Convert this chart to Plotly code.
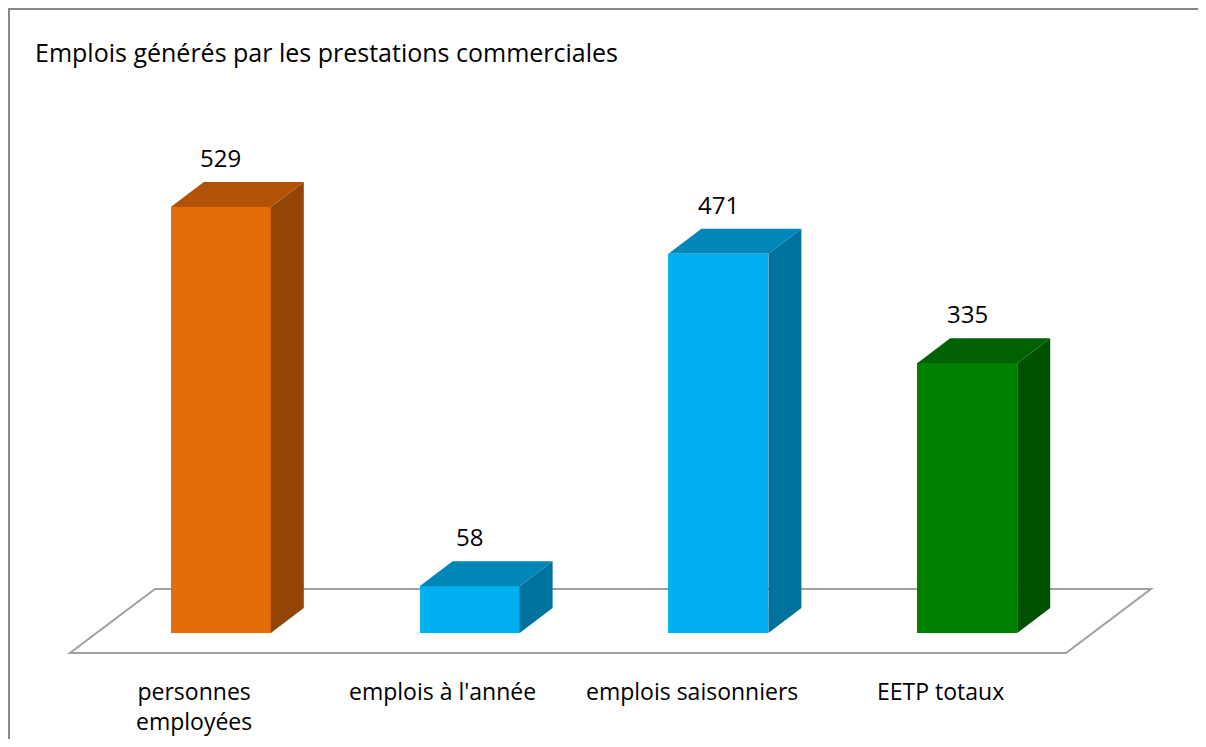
import plotly.graph_objects as go

# ---- data ----
categories = ["personnes<br>employées", "emplois à l'année", "emplois saisonniers", "EETP totaux"]
values = [529, 58, 471, 335]
front_colors = ["#E46C0A", "#00B0F0", "#00B0F0", "#008000"]
top_colors = ["#B15206", "#0087B9", "#0087B9", "#006100"]
side_colors = ["#934508", "#00729E", "#00729E", "#005100"]
title_text = "Emplois générés par les prestations commerciales"

# ---- geometry / style (page-pixel calibration) ----
PAGE_W, PAGE_H = 1206, 747
OFF = 8                      # browser body margin
W, H = PAGE_W - 2 * OFF, PAGE_H - 2 * OFF
CAT_PX = 248.8               # px between categories
CAT0_PX = 220.8              # page px of first bar centre
BASE_PX = 633                # page px of value 0
UNIT_PX = 426 / 529          # px per value unit

def cx(px):
    return (px - CAT0_PX) / CAT_PX

def vy(px):
    return (BASE_PX - px) / UNIT_PX

def paper_x(px):
    return (px - OFF) / W

def paper_y(px):
    return 1 - (px - OFF) / H

bar_w = 100 / CAT_PX
dx = 33 / CAT_PX
dy = 25 / UNIT_PX
FONT = "Open Sans"

fig = go.Figure()

# front faces
xs = list(range(len(values)))
fig.add_trace(go.Bar(
    x=xs, y=values, width=bar_w,
    marker=dict(color=front_colors, line=dict(width=0)),
    hoverinfo="skip", showlegend=False,
))

# side and top faces
for i, v in enumerate(values):
    r = i + bar_w / 2
    l = i - bar_w / 2
    fig.add_trace(go.Scatter(
        x=[r, r + dx, r + dx, r, r], y=[0, dy, v + dy, v, 0],
        fill="toself", fillcolor=side_colors[i], mode="lines",
        line=dict(width=0, color=side_colors[i]),
        hoverinfo="skip", showlegend=False,
    ))
    fig.add_trace(go.Scatter(
        x=[l, l + dx, r + dx, r, l], y=[v, v + dy, v + dy, v, v],
        fill="toself", fillcolor=top_colors[i], mode="lines",
        line=dict(width=0, color=top_colors[i]),
        hoverinfo="skip", showlegend=False,
    ))

# floor
fl_front_y, fl_back_y = vy(653), vy(589)
fx0, fx1, bx0, bx1 = cx(70), cx(1066), cx(155), cx(1151)
fig.add_shape(
    type="path",
    path=f"M {fx0},{fl_front_y} L {fx1},{fl_front_y} L {bx1},{fl_back_y} L {bx0},{fl_back_y} Z",
    xref="x", yref="y", layer="below",
    line=dict(color="#A0A0A0", width=2), fillcolor="white",
)

# outer border: only left and top edges are visible in the frame
bx = 1 / W
by = 1 - 1 / H
fig.add_shape(
    type="path", xref="paper", yref="paper",
    path=f"M {bx},0 L {bx},{by} L 1,{by}",
    line=dict(color="#888888", width=2), layer="below",
)

annotations = []
# data labels
for i, v in enumerate(values):
    annotations.append(dict(
        x=i, y=v + dy, xref="x", yref="y", text=str(v), showarrow=False,
        yanchor="bottom", yshift=6, font=dict(family=FONT, size=24, color="black"),
    ))
# category labels
lab_shift = cx(194)
for i, c in enumerate(categories):
    annotations.append(dict(
        x=i + lab_shift, y=vy(673), xref="x", yref="y", text=c, showarrow=False,
        yanchor="top", xanchor="center", align="center",
        font=dict(family=FONT, size=23, color="black"),
    ))
# title
annotations.append(dict(
    x=paper_x(33), y=paper_y(52), xref="paper", yref="paper", text=title_text,
    showarrow=False, xanchor="left", yanchor="middle",
    font=dict(family=FONT, size=25, color="black"),
))

fig.update_layout(
    width=W, height=H,
    margin=dict(l=0, r=0, t=0, b=0),
    paper_bgcolor="white", plot_bgcolor="white",
    xaxis=dict(range=[cx(OFF), cx(OFF + W)], visible=False, fixedrange=True),
    yaxis=dict(range=[vy(OFF + H), vy(OFF)], visible=False, fixedrange=True),
    annotations=annotations,
    showlegend=False,
    bargap=0,
)

fig.write_html("out.html")
